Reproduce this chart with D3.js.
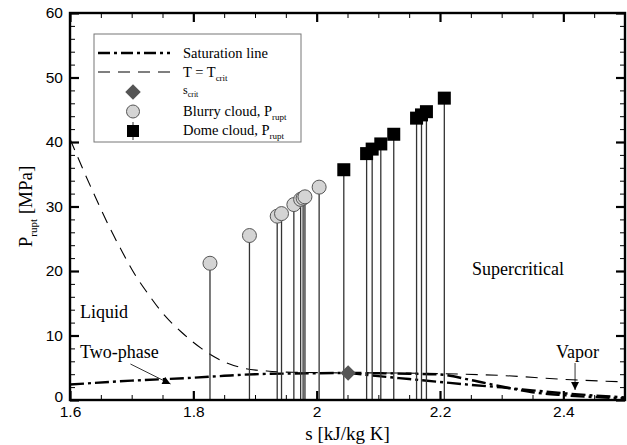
<!DOCTYPE html>
<html><head><meta charset="utf-8">
<script src="https://cdn.jsdelivr.net/npm/d3@7"></script>
<style>
body{margin:0;background:#fff;}
svg{display:block;}
</style></head>
<body>
<svg id="c" width="627" height="445"></svg>
<script>
// ---- data ----
const blurryS = [1.827, 1.891, 1.936, 1.943, 1.963, 1.974, 1.978, 1.981, 2.004];
const blurryP = [21.2, 25.5, 28.5, 28.9, 30.3, 31.1, 31.3, 31.5, 33.0];
const domeS = [2.044, 2.081, 2.090, 2.104, 2.125, 2.162, 2.170, 2.178, 2.207];
const domeP = [35.7, 38.2, 38.9, 39.7, 41.2, 43.7, 44.2, 44.7, 46.8];
const critS = [2.051];
const critP = [4.2];
const tcritS = [1.6, 1.62, 1.64, 1.665, 1.684, 1.705, 1.727, 1.749, 1.781, 1.813, 1.848, 1.883, 1.919, 1.96, 2.0, 2.05, 2.1, 2.2, 2.3, 2.4, 2.5];
const tcritP = [40.5, 36.0, 31.7, 26.6, 23.1, 19.5, 16.4, 13.6, 10.5, 8.0, 6.0, 4.9, 4.5, 4.3, 4.25, 4.2, 4.2, 4.08, 3.8, 3.2, 2.8];
const satLiqS = [1.6, 1.7, 1.8, 1.85, 1.9, 1.95, 2.0, 2.05];
const satLiqP = [2.4, 3.0, 3.45, 3.75, 4.0, 4.1, 4.15, 4.2];
const satVapAS = [2.05, 2.1, 2.15, 2.2, 2.25, 2.3, 2.35, 2.4, 2.45, 2.5];
const satVapAP = [4.2, 4.15, 4.08, 3.95, 3.1, 2.1, 1.2, 0.75, 0.45, 0.25];
const satVapBS = [2.05, 2.1, 2.15, 2.2, 2.25, 2.3, 2.35, 2.4, 2.45, 2.5];
const satVapBP = [4.2, 3.7, 3.25, 2.8, 2.35, 1.95, 1.5, 1.05, 0.7, 0.4];
const xTicks = [1.6, 1.8, 2.0, 2.2, 2.4];
const xTickLabels = ["1.6", "1.8", "2", "2.2", "2.4"];
const yTicks = [0, 10, 20, 30, 40, 50, 60];

// ---- layout ----
const L = 70, R = 625, T = 13, B = 400;
const svg = d3.select("#c");
const x = d3.scaleLinear().domain([1.6, 2.5]).range([L, R]);
const y = d3.scaleLinear().domain([0, 60]).range([B, T]);
const serif = "'Liberation Serif', 'Times New Roman', serif";
const sans = "'Liberation Sans', Arial, sans-serif";

const zip = (a, b) => a.map((v, i) => [v, b[i]]);
const line = d3.line().x(d => x(d[0])).y(d => y(d[1])).curve(d3.curveMonotoneX);

// defs: arrow marker
const defs = svg.append("defs");
defs.append("marker").attr("id", "arr").attr("viewBox", "0 0 10 10").attr("refX", 10).attr("refY", 5)
  .attr("markerWidth", 10).attr("markerHeight", 8).attr("markerUnits", "userSpaceOnUse").attr("orient", "auto")
  .append("path").attr("d", "M0,0 L10,5 L0,10 Z").attr("fill", "#000");
defs.append("clipPath").attr("id", "clip").append("rect").attr("x", L).attr("y", T).attr("width", R - L).attr("height", B - T);

const plot = svg.append("g").attr("clip-path", "url(#clip)");

// T = Tcrit dashed
plot.append("path").datum(zip(tcritS, tcritP)).attr("d", line)
  .attr("fill", "none").attr("stroke", "#000").attr("stroke-width", 1.1).attr("stroke-dasharray", "12,8");

// saturation lines
const dd = "14,4,3,4";
[zip(satLiqS, satLiqP), zip(satVapAS, satVapAP), zip(satVapBS, satVapBP)].forEach(dat => {
  plot.append("path").datum(dat).attr("d", line)
    .attr("fill", "none").attr("stroke", "#000").attr("stroke-width", 2.4).attr("stroke-dasharray", dd);
});

// stems
const blurry = zip(blurryS, blurryP);
const dome = zip(domeS, domeP);
plot.selectAll(".stemb").data(blurry).enter().append("line")
  .attr("x1", d => x(d[0])).attr("x2", d => x(d[0])).attr("y1", d => y(d[1])).attr("y2", y(0))
  .attr("stroke", "#333").attr("stroke-width", 1.3);
plot.selectAll(".stemd").data(dome).enter().append("line")
  .attr("x1", d => x(d[0])).attr("x2", d => x(d[0])).attr("y1", d => y(d[1])).attr("y2", y(0))
  .attr("stroke", "#333").attr("stroke-width", 1.3);

// markers
plot.selectAll(".cb").data(blurry).enter().append("circle")
  .attr("cx", d => x(d[0])).attr("cy", d => y(d[1])).attr("r", 7)
  .attr("fill", "#d4d4d4").attr("stroke", "#555").attr("stroke-width", 1);
plot.selectAll(".sq").data(dome).enter().append("rect")
  .attr("x", d => x(d[0]) - 6.5).attr("y", d => y(d[1]) - 6.5).attr("width", 13).attr("height", 13)
  .attr("fill", "#000");
plot.selectAll(".dm").data(zip(critS, critP)).enter().append("path")
  .attr("d", d3.symbol(d3.symbolSquare, 120))
  .attr("transform", d => `translate(${x(d[0])},${y(d[1])}) rotate(45)`)
  .attr("fill", "#555");

// ---- axes ----
const axG = svg.append("g");
function styleAxis(g, major) {
  g.select(".domain").remove();
  g.selectAll(".tick line").attr("stroke", "#000").attr("stroke-width", major ? 2.2 : 1);
  g.selectAll(".tick text").attr("font-family", sans).attr("font-size", 15.5).attr("fill", "#000");
}
const xMinor = d3.range(1.65, 2.5, 0.05).filter(v => Math.abs(v * 5 - Math.round(v * 5)) > 1e-6);
const yMinor = d3.range(2, 60, 2).filter(v => v % 10 !== 0);

// bottom
axG.append("g").attr("transform", `translate(0,${B})`)
  .call(d3.axisBottom(x).tickValues(xTicks).tickFormat((d, i) => xTickLabels[i]).tickSizeInner(-9).tickSizeOuter(0).tickPadding(6))
  .call(g => styleAxis(g, true));
axG.append("g").attr("transform", `translate(0,${B})`)
  .call(d3.axisBottom(x).tickValues(xMinor).tickFormat("").tickSizeInner(-5).tickSizeOuter(0))
  .call(g => styleAxis(g, false));
// top
axG.append("g").attr("transform", `translate(0,${T})`)
  .call(d3.axisTop(x).tickValues(xTicks).tickFormat("").tickSizeInner(-9).tickSizeOuter(0))
  .call(g => styleAxis(g, true));
axG.append("g").attr("transform", `translate(0,${T})`)
  .call(d3.axisTop(x).tickValues(xMinor).tickFormat("").tickSizeInner(-5).tickSizeOuter(0))
  .call(g => styleAxis(g, false));
// left
axG.append("g").attr("transform", `translate(${L},0)`)
  .call(d3.axisLeft(y).tickValues(yTicks).tickFormat(d3.format("d")).tickSizeInner(-9).tickSizeOuter(0).tickPadding(7))
  .call(g => styleAxis(g, true))
  .call(g => g.selectAll(".tick text").filter(d => d === 0).attr("dy", "0.1em"));
axG.append("g").attr("transform", `translate(${L},0)`)
  .call(d3.axisLeft(y).tickValues(yMinor).tickFormat("").tickSizeInner(-5).tickSizeOuter(0))
  .call(g => styleAxis(g, false));
// right
axG.append("g").attr("transform", `translate(${R},0)`)
  .call(d3.axisRight(y).tickValues(yTicks).tickFormat("").tickSizeInner(-9).tickSizeOuter(0))
  .call(g => styleAxis(g, true));
axG.append("g").attr("transform", `translate(${R},0)`)
  .call(d3.axisRight(y).tickValues(yMinor).tickFormat("").tickSizeInner(-5).tickSizeOuter(0))
  .call(g => styleAxis(g, false));

// frame
svg.append("rect").attr("x", L).attr("y", T).attr("width", R - L).attr("height", B - T)
  .attr("fill", "none").attr("stroke", "#000").attr("stroke-width", 2.4);

// axis titles
svg.append("text").attr("x", (L + R) / 2).attr("y", 440).attr("text-anchor", "middle")
  .attr("font-family", serif).attr("font-size", 19).text("s [kJ/kg K]");
const yt = svg.append("text").attr("transform", `translate(32,${(T + B) / 2}) rotate(-90)`).attr("text-anchor", "middle")
  .attr("font-family", serif).attr("font-size", 19);
yt.append("tspan").text("P");
yt.append("tspan").attr("font-size", 11).attr("dy", 5).text("rupt");
yt.append("tspan").attr("dy", -5).text(" [MPa]");

// region labels
const lab = (t, px, py) => svg.append("text").attr("x", px).attr("y", py).attr("font-family", serif).attr("font-size", 18).text(t);
lab("Liquid", 80, 318);
lab("Two-phase", 80, 358);
lab("Supercritical", 472, 275);
lab("Vapor", 556, 358);

// arrows
svg.append("line").attr("x1", x(1.698)).attr("y1", 364).attr("x2", x(1.763)).attr("y2", 384)
  .attr("stroke", "#000").attr("stroke-width", 0.8).attr("marker-end", "url(#arr)");
svg.append("line").attr("x1", x(2.419)).attr("y1", 363).attr("x2", x(2.419)).attr("y2", 390)
  .attr("stroke", "#000").attr("stroke-width", 0.8).attr("marker-end", "url(#arr)");

// legend
const lg = svg.append("g");
lg.append("rect").attr("x", 94).attr("y", 34).attr("width", 207).attr("height", 108)
  .attr("fill", "#fff").attr("stroke", "#777").attr("stroke-width", 1);
const tx = 183, sx = 133;
function ltext(py, main, sub, rest) {
  const t = lg.append("text").attr("x", tx).attr("y", py).attr("font-family", serif).attr("font-size", 14.5).attr("fill", "#000");
  t.append("tspan").text(main);
  if (sub) {
    t.append("tspan").attr("font-size", 9).attr("dy", 4).text(sub);
    if (rest) t.append("tspan").attr("dy", -4).text(rest);
  }
}
lg.append("line").attr("x1", 98).attr("x2", 170).attr("y1", 53).attr("y2", 53)
  .attr("stroke", "#000").attr("stroke-width", 2.4).attr("stroke-dasharray", "12,4,3,4");
ltext(58, "Saturation line");
lg.append("line").attr("x1", 98).attr("x2", 170).attr("y1", 72).attr("y2", 72)
  .attr("stroke", "#000").attr("stroke-width", 1.1).attr("stroke-dasharray", "12,8");
ltext(77, "T = T", "crit");
lg.append("path").attr("d", d3.symbol(d3.symbolSquare, 120)).attr("transform", `translate(${sx},92) rotate(45)`).attr("fill", "#555");
const st = lg.append("text").attr("x", tx).attr("y", 94).attr("font-family", serif).attr("font-size", 12);
st.append("tspan").text("s");
st.append("tspan").attr("font-size", 8).attr("dy", 3).text("crit");
lg.append("circle").attr("cx", sx).attr("cy", 111.5).attr("r", 6.5).attr("fill", "#d4d4d4").attr("stroke", "#555");
ltext(116, "Blurry cloud, P", "rupt");
lg.append("line").attr("x1", sx).attr("x2", sx).attr("y1", 122).attr("y2", 140).attr("stroke", "#333");
lg.append("rect").attr("x", sx - 6).attr("y", 125).attr("width", 12).attr("height", 12).attr("fill", "#000");
ltext(135, "Dome cloud, P", "rupt");
</script>
</body></html>
